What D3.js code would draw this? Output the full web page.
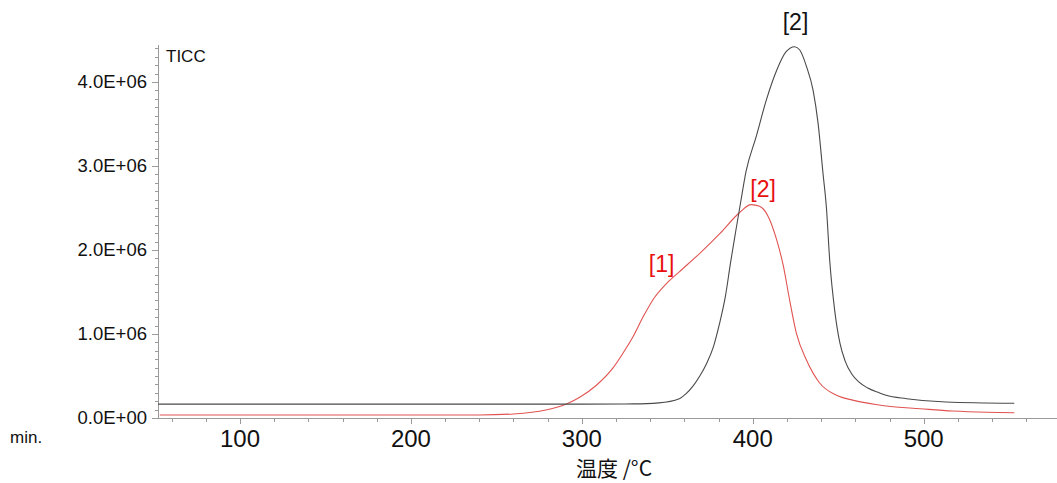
<!DOCTYPE html>
<html>
<head>
<meta charset="utf-8">
<script src="https://cdn.jsdelivr.net/npm/d3@7"></script>
<style>
  html, body { margin: 0; padding: 0; background: #fff; }
  svg { display: block; }
</style>
</head>
<body>
<svg id="chart" width="1057" height="483"></svg>
<script>
// ---- data (temperature °C, intensity in 1E+06) ----
const blackT = [52,150,200,250,300,330,345,357,361,365,369,373,377,380.5,384,387,390,393,396,402,408,414,419.5,424.5,427.5,431.5,435.3,438.2,441.1,443.1,445,448,451,454,458,462,467,474,478,490,513,553];
const blackV = [0.165,0.165,0.165,0.165,0.165,0.168,0.18,0.23,0.29,0.38,0.50,0.65,0.85,1.12,1.45,1.85,2.22,2.58,2.93,3.35,3.79,4.14,4.36,4.42,4.38,4.18,3.9,3.51,2.91,2.5,1.88,1.27,0.89,0.68,0.52,0.43,0.36,0.30,0.27,0.23,0.19,0.175];

const redT = [53,200,240,260,279,291,299,308.5,318,324,330,336,342,349.5,357,369,381,392,399,404,409,414,418,421.6,425.5,431.4,439,449,459,472,478,498,517,537,553];
const redV = [0.035,0.035,0.036,0.048,0.095,0.167,0.25,0.39,0.59,0.77,0.97,1.21,1.42,1.60,1.74,1.96,2.2,2.44,2.54,2.52,2.40,2.12,1.80,1.40,1.01,0.69,0.42,0.27,0.21,0.16,0.143,0.111,0.083,0.068,0.063];

const xTickValues = [100,200,300,400,500];
const xTickLabels = ["100","200","300","400","500"];
const yTickValues = [0,1,2,3,4];
const yTickLabels = ["0.0E+00","1.0E+06","2.0E+06","3.0E+06","4.0E+06"];

const peakLabels = [
  {text:"[2]", t:425, v:4.42, color:"#111"},
  {text:"[2]", t:399, v:2.54, color:"#e8100f"},
  {text:"[1]", t:349, v:1.60, color:"#e8100f"}
];

// ---- layout ----
const svg = d3.select("#chart");
const mLeft = 158, mRight = 1057, mTop = 45, mBottom = 418;
const x = d3.scaleLinear().domain([52, 578]).range([mLeft, mRight]);
const y = d3.scaleLinear().domain([0, 4.44]).range([mBottom, mTop]);

const axisColor = "#9a9a9a";
const font = "'Liberation Sans', Arial, sans-serif";

// x axis
const xMinor = d3.range(60, 578, 20).filter(d => d % 100 !== 0);
const gx = svg.append("g").attr("transform", `translate(0,${mBottom})`);
gx.append("line").attr("x1", mLeft).attr("x2", mRight).attr("y1", 0.5).attr("y2", 0.5)
  .attr("stroke", axisColor).attr("stroke-width", 1);
gx.selectAll("line.minor").data(xMinor).enter().append("line")
  .attr("class","minor")
  .attr("x1", d => Math.round(x(d)) + 0.5).attr("x2", d => Math.round(x(d)) + 0.5)
  .attr("y1", 0).attr("y2", 4).attr("stroke", axisColor);
gx.selectAll("line.major").data(xTickValues).enter().append("line")
  .attr("class","major")
  .attr("x1", d => Math.round(x(d)) + 0.5).attr("x2", d => Math.round(x(d)) + 0.5)
  .attr("y1", 0).attr("y2", 6).attr("stroke", axisColor);
gx.selectAll("text").data(xTickValues).enter().append("text")
  .attr("x", d => x(d)).attr("y", 29)
  .attr("text-anchor", "middle")
  .attr("font-family", font).attr("font-size", 24).attr("fill", "#111")
  .text((d, i) => xTickLabels[i]);

// y axis
const yMinor = d3.range(0, 45).map(d => d / 10).filter(d => Math.abs(d - Math.round(d)) > 1e-6);
const gy = svg.append("g").attr("transform", `translate(${mLeft},0)`);
gy.append("line").attr("x1", 0.5).attr("x2", 0.5).attr("y1", mTop).attr("y2", mBottom)
  .attr("stroke", axisColor).attr("stroke-width", 1);
gy.selectAll("line.minor").data(yMinor).enter().append("line")
  .attr("class","minor")
  .attr("x1", -3).attr("x2", 0)
  .attr("y1", d => Math.round(y(d)) + 0.5).attr("y2", d => Math.round(y(d)) + 0.5)
  .attr("stroke", axisColor);
gy.selectAll("line.major").data(yTickValues).enter().append("line")
  .attr("class","major")
  .attr("x1", -6).attr("x2", 0)
  .attr("y1", d => Math.round(y(d)) + 0.5).attr("y2", d => Math.round(y(d)) + 0.5)
  .attr("stroke", axisColor);
gy.selectAll("text").data(yTickValues).enter().append("text")
  .attr("x", -11).attr("y", d => y(d)).attr("dy", "0.35em")
  .attr("text-anchor", "end")
  .attr("font-family", font).attr("font-size", 18.5).attr("fill", "#111")
  .text((d, i) => yTickLabels[i]);

// curves
const line = d3.line().x(d => x(d[0])).y(d => y(d[1])).curve(d3.curveMonotoneX);
svg.append("path").datum(redT.map((t, i) => [t, redV[i]]))
  .attr("d", line).attr("fill", "none").attr("stroke", "#e05452").attr("stroke-width", 1.1);
svg.append("path").datum(blackT.map((t, i) => [t, blackV[i]]))
  .attr("d", line).attr("fill", "none").attr("stroke", "#4a4a4a").attr("stroke-width", 1.1);

// peak labels
svg.selectAll("text.peak").data(peakLabels).enter().append("text")
  .attr("class","peak")
  .attr("x", (d, i) => x(d.t) + (i === 0 ? 0 : i === 1 ? 12 : -4))
  .attr("y", (d, i) => y(d.v) + (i === 0 ? -17 : i === 1 ? -8 : -12))
  .attr("text-anchor", "middle")
  .attr("font-family", font).attr("font-size", 23).attr("fill", d => d.color)
  .text(d => d.text);

// other texts
svg.append("text").attr("x", 166).attr("y", 62)
  .attr("font-family", font).attr("font-size", 17).attr("fill", "#111").text("TICC");
svg.append("text").attr("x", 10).attr("y", 443)
  .attr("font-family", font).attr("font-size", 17).attr("fill", "#111").text("min.");
svg.append("text").attr("x", 614).attr("y", 476)
  .attr("text-anchor", "middle")
  .attr("font-family", "'Noto Sans CJK JP', 'Noto Sans', sans-serif").attr("font-size", 21).attr("fill", "#111")
  .text("温度 /°C");
</script>
</body>
</html>
